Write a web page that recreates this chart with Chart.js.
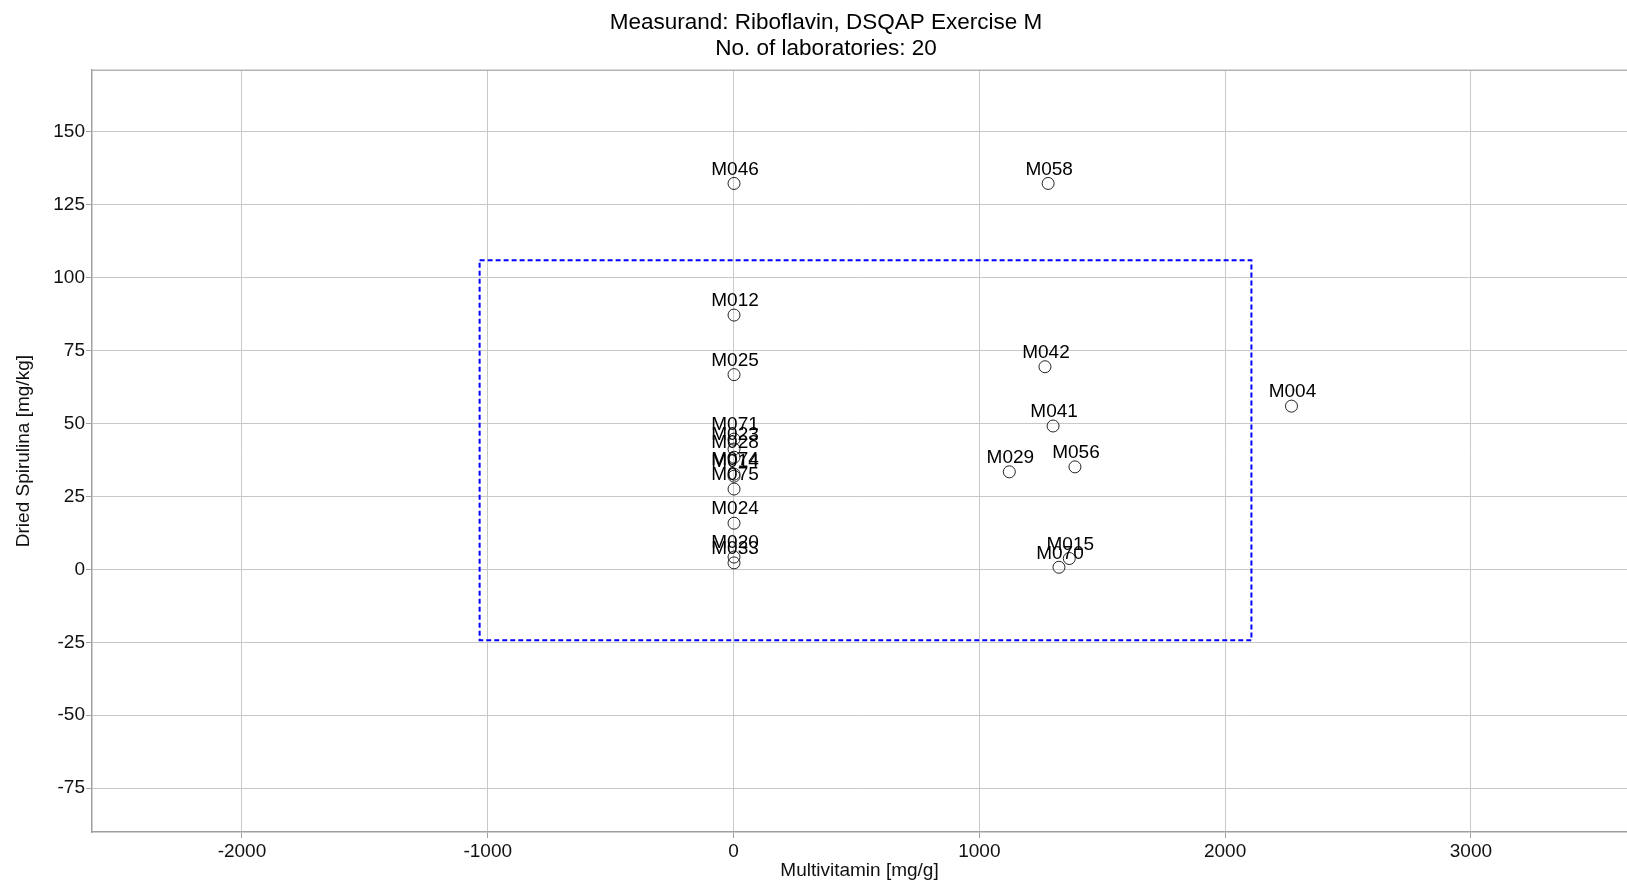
<!DOCTYPE html>
<html>
<head>
<meta charset="utf-8">
<title>Riboflavin scatter</title>
<script src="https://cdn.jsdelivr.net/npm/chart.js@4/dist/chart.umd.min.js"></script>
<style>
  body { margin: 0; background: #fff; }
  canvas { display: block; }
</style>
</head>
<body>
<canvas id="myChart" width="1627" height="882"></canvas>
<script>
// lab codes and their results
var labs = ['M046', 'M058', 'M012', 'M025', 'M042', 'M041', 'M004', 'M029', 'M056', 'M015',
            'M070', 'M071', 'M023', 'M028', 'M074', 'M014', 'M075', 'M024', 'M020', 'M033'];
var multivitamin = [2, 1280, 2, 2, 1267, 1300, 2270, 1122, 1389, 1366,
                    1324, 2, 2, 2, 2, 2, 2, 2, 2, 2];
var spirulina = [132.2, 132.2, 87.1, 66.7, 69.4, 49.1, 55.9, 33.4, 35.1, 3.7,
                 0.7, 44.6, 41.2, 38.4, 32.6, 31.9, 27.5, 15.8, 4.2, 2.2];

// dashed box corners
var boxX = [-1033, 2107, 2107, -1033, -1033];
var boxY = [105.9, 105.9, -24.3, -24.3, 105.9];

// axis ticks
var xTicks = [-2000, -1000, 0, 1000, 2000, 3000];
var yTicks = [-75, -50, -25, 0, 25, 50, 75, 100, 125, 150];

var titleLines = ['Measurand: Riboflavin, DSQAP Exercise M', 'No. of laboratories: 20'];

var points = labs.map(function (l, i) { return { x: multivitamin[i], y: spirulina[i] }; });
var box = boxX.map(function (v, i) { return { x: v, y: boxY[i] }; });

var FONT = '"Liberation Sans", Arial, sans-serif';

// lab labels above each circle
var labelPlugin = {
  id: 'labLabels',
  afterDatasetsDraw: function (chart) {
    var ctx = chart.ctx;
    var meta = chart.getDatasetMeta(0);
    ctx.save();
    ctx.font = '19px ' + FONT;
    ctx.fillStyle = '#000';
    ctx.textAlign = 'center';
    ctx.textBaseline = 'middle';
    meta.data.forEach(function (pt, i) {
      ctx.fillText(labs[i], pt.x + 1, pt.y - 14);
    });
    ctx.restore();
  }
};

// top frame line + nudge title a bit right
var framePlugin = {
  id: 'frameTop',
  afterLayout: function (chart) {
    if (chart.titleBlock) chart.titleBlock.left += 25;
  },
  beforeDatasetsDraw: function (chart) {
    var a = chart.chartArea, ctx = chart.ctx;
    ctx.save();
    ctx.strokeStyle = '#b4b4b4';
    ctx.lineWidth = 1.5;
    ctx.beginPath();
    ctx.moveTo(a.left, a.top);
    ctx.lineTo(a.right, a.top);
    ctx.stroke();
    ctx.restore();
  }
};

function fixedTicks(list) {
  return function (s) { s.ticks = list.map(function (v) { return { value: v }; }); };
}

var ctx = document.getElementById('myChart').getContext('2d');
var myChart = new Chart(ctx, {
  type: 'scatter',
  data: {
    datasets: [{
      data: points,
      pointRadius: 6,
      pointHoverRadius: 6,
      borderColor: '#222',
      borderWidth: 1,
      backgroundColor: 'rgba(255,255,255,0)'
    }, {
      type: 'line',
      data: box,
      showLine: true,
      fill: false,
      pointRadius: 0,
      borderColor: '#0000ff',
      borderWidth: 2,
      borderDash: [5, 3],
      tension: 0
    }]
  },
  plugins: [labelPlugin, framePlugin],
  options: {
    responsive: false,
    devicePixelRatio: 1,
    animation: false,
    layout: { padding: 0, autoPadding: false },
    plugins: {
      legend: { display: false },
      tooltip: { enabled: false },
      title: {
        display: true,
        text: titleLines,
        color: '#000',
        font: { family: FONT, size: 22.5, weight: 'normal', lineHeight: 1.16 },
        padding: { top: 10, bottom: 8 }
      }
    },
    scales: {
      x: {
        type: 'linear',
        min: -2610,
        max: 3635,
        afterFit: function (s) { s.height = 50; },
        afterBuildTicks: fixedTicks(xTicks),
        ticks: {
          color: '#111',
          padding: 2,
          maxRotation: 0,
          autoSkip: false,
          font: { family: FONT, size: 19 },
          callback: function (v) { return String(v); }
        },
        grid: { color: '#c8c8c8', lineWidth: 1, tickLength: 6, tickColor: '#a0a0a0' },
        border: { color: '#a0a0a0', width: 1.5 },
        title: {
          display: true,
          text: 'Multivitamin [mg/g]',
          color: '#111',
          font: { family: FONT, size: 19 },
          padding: { top: 1, bottom: 0 }
        }
      },
      y: {
        type: 'linear',
        min: -90,
        max: 171,
        afterFit: function (s) { s.width = 92; },
        afterBuildTicks: fixedTicks(yTicks),
        ticks: {
          color: '#111',
          padding: 1,
          autoSkip: false,
          font: { family: FONT, size: 19 },
          callback: function (v) { return String(v); }
        },
        grid: { color: '#c8c8c8', lineWidth: 1, tickLength: 6, tickColor: '#a0a0a0' },
        border: { color: '#a0a0a0', width: 1.5 },
        title: {
          display: true,
          text: 'Dried Spirulina [mg/kg]',
          color: '#111',
          font: { family: FONT, size: 19 },
          padding: { top: 12, bottom: 0 }
        }
      }
    }
  }
});
</script>
</body>
</html>
